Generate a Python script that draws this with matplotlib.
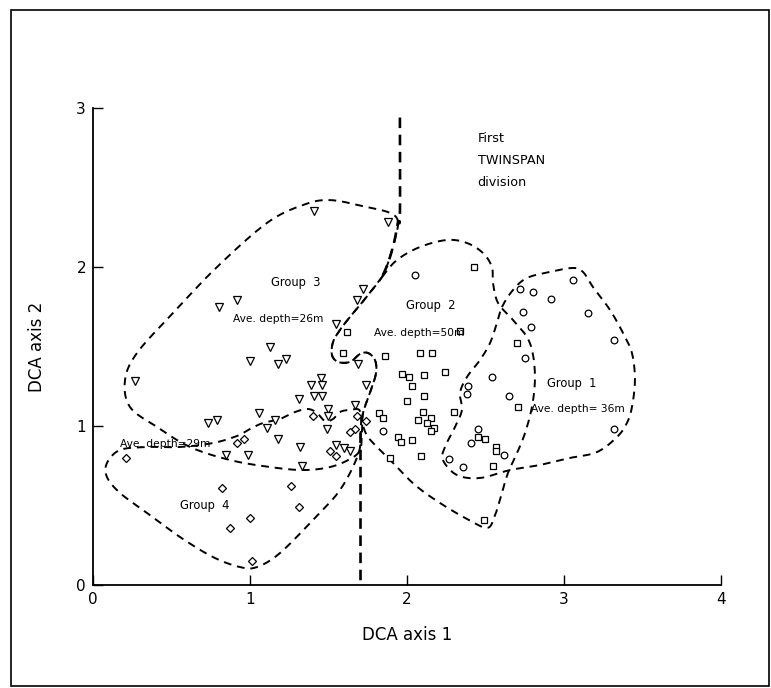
import numpy as np
import matplotlib
matplotlib.use("Agg")
import matplotlib.pyplot as plt
from matplotlib.patches import Rectangle

# sample scores on DCA axes, by TWINSPAN group
g1_x = [2.05, 3.06, 2.72, 2.80, 2.92, 2.74, 3.15, 2.79, 3.32, 2.75, 2.54, 2.39, 2.38,
        2.65, 3.32, 2.45, 1.85, 2.41, 2.62, 2.27, 2.36]
g1_y = [1.95, 1.92, 1.86, 1.84, 1.80, 1.72, 1.71, 1.62, 1.54, 1.43, 1.31, 1.25, 1.20,
        1.19, 0.98, 0.98, 0.97, 0.89, 0.82, 0.79, 0.74]

g2_x = [2.43, 2.34, 1.62, 1.59, 1.86, 2.08, 2.16, 1.97, 2.01, 2.11, 2.24, 2.03, 2.11,
        2.00, 2.10, 2.30, 1.82, 1.85, 2.07, 2.15, 2.13, 2.17, 2.15, 1.94, 1.96, 2.03,
        1.89, 2.09, 2.70, 2.71, 2.45, 2.50, 2.57, 2.57, 2.55, 2.49]
g2_y = [2.00, 1.60, 1.59, 1.46, 1.44, 1.46, 1.46, 1.33, 1.31, 1.32, 1.34, 1.25, 1.19,
        1.16, 1.09, 1.09, 1.08, 1.05, 1.04, 1.05, 1.02, 0.99, 0.97, 0.93, 0.90, 0.91,
        0.80, 0.81, 1.52, 1.12, 0.93, 0.92, 0.87, 0.84, 0.75, 0.41]

g3_x = [1.41, 1.88, 1.72, 1.68, 0.92, 0.80, 1.55, 1.13, 1.00, 1.18, 1.23, 1.69, 0.27,
        1.45, 1.39, 1.46, 1.74, 1.41, 1.46, 1.31, 1.50, 1.67, 1.06, 1.16, 1.50, 0.73,
        0.79, 1.11, 1.49, 1.18, 1.32, 1.55, 1.60, 1.64, 0.85, 0.99, 1.33]
g3_y = [2.35, 2.28, 1.86, 1.79, 1.79, 1.75, 1.64, 1.50, 1.41, 1.39, 1.42, 1.39, 1.28,
        1.30, 1.26, 1.26, 1.26, 1.19, 1.19, 1.17, 1.11, 1.13, 1.08, 1.04, 1.06, 1.02,
        1.04, 0.99, 0.98, 0.92, 0.87, 0.88, 0.86, 0.84, 0.82, 0.82, 0.75]

g4_x = [0.21, 0.82, 1.26, 1.31, 1.00, 0.87, 1.01, 0.96, 0.92, 1.40, 1.51, 1.55, 1.68,
        1.74, 1.67, 1.64]
g4_y = [0.80, 0.61, 0.62, 0.49, 0.42, 0.36, 0.15, 0.92, 0.89, 1.06, 0.84, 0.81, 1.06,
        1.03, 0.98, 0.96]

# hand-drawn group envelopes (vertices)
env1_x = [2.605, 2.675, 2.764, 2.911, 3.057, 3.121, 3.185, 3.293, 3.376, 3.433, 3.452,
          3.433, 3.401, 3.338, 3.210, 3.038, 2.847, 2.656, 2.465, 2.318, 2.229, 2.242,
          2.306, 2.350, 2.338, 2.382, 2.465, 2.529, 2.573]
env1_y = [1.748, 1.855, 1.931, 1.969, 1.994, 1.969, 1.874, 1.730, 1.585, 1.459, 1.289,
          1.119, 1.019, 0.931, 0.836, 0.799, 0.755, 0.723, 0.673, 0.692, 0.786, 0.868,
          0.994, 1.101, 1.208, 1.308, 1.415, 1.522, 1.648]

env2_x = [1.841, 1.936, 2.083, 2.255, 2.382, 2.484, 2.541, 2.548, 2.580, 2.675, 2.764,
          2.803, 2.815, 2.796, 2.752, 2.701, 2.643, 2.592, 2.561, 2.515, 2.401, 2.210,
          2.051, 1.924, 1.828, 1.752, 1.720, 1.720, 1.764, 1.803, 1.796, 1.752, 1.701,
          1.637, 1.561, 1.522, 1.529, 1.573, 1.637, 1.701, 1.777]
env2_y = [1.937, 2.044, 2.126, 2.170, 2.151, 2.088, 2.000, 1.899, 1.774, 1.667, 1.560,
          1.447, 1.289, 1.119, 0.956, 0.830, 0.704, 0.535, 0.440, 0.360, 0.405, 0.516,
          0.629, 0.755, 0.849, 0.931, 1.006, 1.082, 1.208, 1.333, 1.415, 1.459, 1.453,
          1.403, 1.403, 1.447, 1.528, 1.604, 1.686, 1.761, 1.855]

env3_x = [1.943, 1.892, 1.745, 1.510, 1.338, 1.108, 0.790, 0.510, 0.280, 0.204, 0.236,
          0.408, 0.618, 0.873, 1.127, 1.338, 1.510, 1.637, 1.701, 1.713, 1.720, 1.764,
          1.803, 1.796, 1.752, 1.701, 1.637, 1.561, 1.522, 1.529, 1.573, 1.637, 1.701,
          1.777, 1.841, 1.879, 1.917]
env3_y = [2.283, 2.340, 2.377, 2.421, 2.390, 2.277, 2.000, 1.711, 1.459, 1.289, 1.119,
          0.994, 0.868, 0.786, 0.742, 0.723, 0.742, 0.792, 0.849, 0.956, 1.082, 1.208,
          1.333, 1.415, 1.459, 1.453, 1.403, 1.403, 1.447, 1.528, 1.604, 1.686, 1.761,
          1.855, 1.937, 2.025, 2.151]

env4_x = [1.701, 1.637, 1.573, 1.529, 1.478, 1.427, 1.369, 1.287, 1.191, 1.083, 1.000,
          0.917, 0.764, 0.554, 0.344, 0.172, 0.089, 0.089, 0.172, 0.344, 0.554, 0.764,
          0.936, 1.045, 1.191, 1.401, 1.573, 1.688, 1.705]
env4_y = [1.094, 1.101, 1.088, 1.044, 1.031, 1.082, 1.107, 1.088, 1.044, 1.019, 0.981,
          0.937, 0.893, 0.868, 0.868, 0.849, 0.767, 0.679, 0.579, 0.453, 0.302, 0.176,
          0.113, 0.113, 0.201, 0.409, 0.597, 0.818, 0.960]

# first TWINSPAN division line (upper and lower arms; the middle follows the envelopes)
div_top_x = [1.955, 1.955, 1.943, 1.917, 1.879, 1.841]
div_top_y = [2.940, 2.330, 2.283, 2.151, 2.025, 1.937]
div_base_x = [1.700, 1.700]
div_base_y = [0.960, 0.0]


def smooth(xs, ys, closed=True, n=12):
    # catmull-rom through the traced vertices
    p = np.column_stack([xs, ys])
    if closed:
        p = np.vstack([p[-1], p, p[0], p[1]])
    else:
        p = np.vstack([p[0], p, p[-1]])
    out = []
    t = np.linspace(0, 1, n, endpoint=False)[:, None]
    for i in range(1, len(p) - 2):
        p0, p1, p2, p3 = p[i - 1], p[i], p[i + 1], p[i + 2]
        seg = 0.5 * ((2 * p1) + (-p0 + p2) * t + (2 * p0 - 5 * p1 + 4 * p2 - p3) * t ** 2
                     + (-p0 + 3 * p1 - 3 * p2 + p3) * t ** 3)
        out.append(seg)
    out.append(p[-2][None, :])
    out = np.vstack(out)
    return out[:, 0], out[:, 1]


fig = plt.figure(figsize=(7.71, 6.88), dpi=100)
ax = fig.add_axes([0.1206, 0.1497, 0.8145, 0.6933])

for ex, ey in [(env1_x, env1_y), (env2_x, env2_y), (env3_x, env3_y), (env4_x, env4_y)]:
    sx, sy = smooth(ex, ey)
    line, = ax.plot(sx, sy, color="black", lw=1.4)
    line.set_dashes([4, 3])

sx, sy = smooth(div_top_x, div_top_y, closed=False)
line, = ax.plot(sx, sy, color="black", lw=1.9)
line.set_dashes([4, 2.5])
line, = ax.plot(div_base_x, div_base_y, color="black", lw=1.9)
line.set_dashes([4, 2.5])

mk = dict(linestyle="none", markerfacecolor="white", markeredgecolor="black",
          markeredgewidth=0.9)
ax.plot(g3_x, g3_y, marker="v", markersize=5.5, **mk)
ax.plot(g2_x, g2_y, marker="s", markersize=4.5, **mk)
ax.plot(g1_x, g1_y, marker="o", markersize=4.8, **mk)
ax.plot(g4_x, g4_y, marker="D", markersize=4.4, **mk)

gk = dict(fontsize=8.3, ha="center", va="center")
dk = dict(fontsize=7.7, ha="center", va="center")
ax.text(1.29, 1.90, "Group  3", **gk)
ax.text(1.18, 1.67, "Ave. depth=26m", **dk)
ax.text(2.15, 1.76, "Group  2", **gk)
ax.text(2.08, 1.585, "Ave. depth=50m", **dk)
ax.text(3.05, 1.27, "Group  1", **gk)
ax.text(3.09, 1.11, "Ave. depth= 36m", **dk)
ax.text(0.46, 0.887, "Ave. depth=29m", **dk)
ax.text(0.71, 0.50, "Group  4", **gk)
for txt, yy in [("First", 2.81), ("TWINSPAN", 2.67), ("division", 2.53)]:
    ax.text(2.45, yy, txt, fontsize=9.2, ha="left", va="center")

ax.set_xlim(0, 4)
ax.set_ylim(0, 3)
ax.set_xticks([0, 1, 2, 3, 4])
ax.set_yticks([0, 1, 2, 3])
ax.tick_params(direction="in", length=7, width=1, labelsize=11, pad=5)
for s in ["top", "right"]:
    ax.spines[s].set_visible(False)
for s in ["left", "bottom"]:
    ax.spines[s].set_linewidth(1.3)
ax.set_xlabel("DCA axis 1", fontsize=12, labelpad=14)
ax.set_ylabel("DCA axis 2", fontsize=12, labelpad=22)

# outer frame of the figure
fig.patches.append(Rectangle((11 / 771, 0.003), 758 / 771, 0.982, transform=fig.transFigure,
                             fill=False, edgecolor="black", lw=1.2))

fig.savefig("out.png", dpi=100)
